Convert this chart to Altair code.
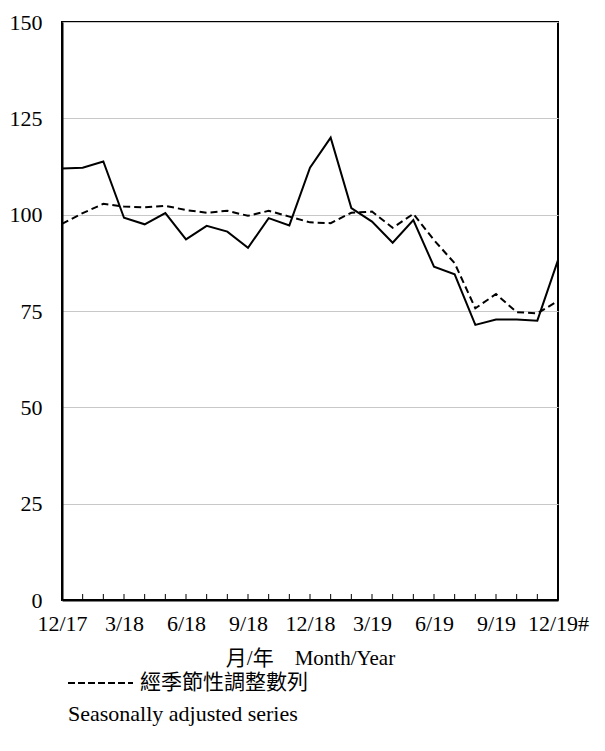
import altair as alt
import pandas as pd

months = ["12/17", "1/18", "2/18", "3/18", "4/18", "5/18", "6/18", "7/18", "8/18",
          "9/18", "10/18", "11/18", "12/18", "1/19", "2/19", "3/19", "4/19", "5/19",
          "6/19", "7/19", "8/19", "9/19", "10/19", "11/19", "12/19#"]
original = [112.0, 112.2, 113.8, 99.2, 97.5, 100.4, 93.6, 97.1, 95.6, 91.4, 99.1, 97.2,
            112.2, 120.0, 101.7, 98.2, 92.7, 98.6, 86.5, 84.5, 71.4, 72.8, 72.8, 72.5, 88.2]
seasonal = [97.6, 100.4, 102.8, 102.1, 101.9, 102.3, 101.2, 100.5, 101.0, 99.7, 101.0, 99.5,
            98.0, 97.8, 100.5, 100.8, 96.6, 100.2, 93.4, 87.4, 75.7, 79.4, 74.7, 74.4, 77.6]
tick_labels = ["12/17", "3/18", "6/18", "9/18", "12/18", "3/19", "6/19", "9/19", "12/19#"]
y_ticks = [0, 25, 50, 75, 100, 125, 150]
legend_zh_text = "經季節性調整數列"
legend_en_text = "Seasonally adjusted series"

FONT = "Liberation Serif, Noto Sans CJK TC"

df = pd.DataFrame({"month": months, "original": original, "seasonal": seasonal})
df_ticks = pd.DataFrame({"month": months[1:-1]})
df_one = pd.DataFrame({"k": [0]})

xscale = alt.Scale(type="point", domain=months, padding=0)
yscale = alt.Scale(domain=[0, 150], nice=False)

base = alt.Chart(df)

x_enc = alt.X("month:O", scale=xscale, sort=months,
              axis=alt.Axis(values=tick_labels, title="月/年　Month/Year", labelAngle=0,
                            ticks=False, labelPadding=13, titlePadding=13,
                            labelFontSize=22, titleFontSize=21, titleFontWeight="normal",
                            labelFont=FONT, titleFont=FONT, grid=False,
                            domainColor="black", domainWidth=2, labelColor="black",
                            titleColor="black"))
y_enc = alt.Y("original:Q", scale=yscale,
              axis=alt.Axis(values=y_ticks, title=None, ticks=False, labelPadding=20,
                            labelFontSize=22, labelFont=FONT, grid=True, gridColor="#c8c8c8",
                            gridWidth=1, domainColor="black", domainWidth=2,
                            labelColor="black"))

solid = base.mark_line(color="black", strokeWidth=2).encode(x=x_enc, y=y_enc)
dashed = base.mark_line(color="black", strokeWidth=2, strokeDash=[7, 4]).encode(
    x=alt.X("month:O", scale=xscale, sort=months),
    y=alt.Y("seasonal:Q", scale=yscale))

ticks = alt.Chart(df_ticks).mark_rule(color="black", strokeWidth=1).encode(
    x=alt.X("month:O", scale=xscale, sort=months),
    y=alt.value(578), y2=alt.value(572))

one = alt.Chart(df_one)
legend_line = one.mark_rule(color="black", strokeWidth=2, strokeDash=[7, 3]).encode(
    x=alt.value(6), x2=alt.value(71), y=alt.value(661))
legend_zh = one.mark_text(align="left", baseline="middle", fontSize=21,
                          font=FONT, color="black").encode(
    x=alt.value(78), y=alt.value(661), text=alt.value(legend_zh_text))
legend_en = one.mark_text(align="left", baseline="middle", fontSize=22,
                          font=FONT, color="black").encode(
    x=alt.value(6), y=alt.value(692), text=alt.value(legend_en_text))

chart = alt.layer(solid, dashed, ticks, legend_line, legend_zh, legend_en).properties(
    width=496, height=578,
    autosize=alt.AutoSizeParams(type="none"),
    padding={"left": 54, "top": 14, "right": 39, "bottom": 151},
    background="white",
).configure_view(stroke="black", strokeWidth=2)

chart.save("out.html", embed_options={"renderer": "svg", "actions": False})
